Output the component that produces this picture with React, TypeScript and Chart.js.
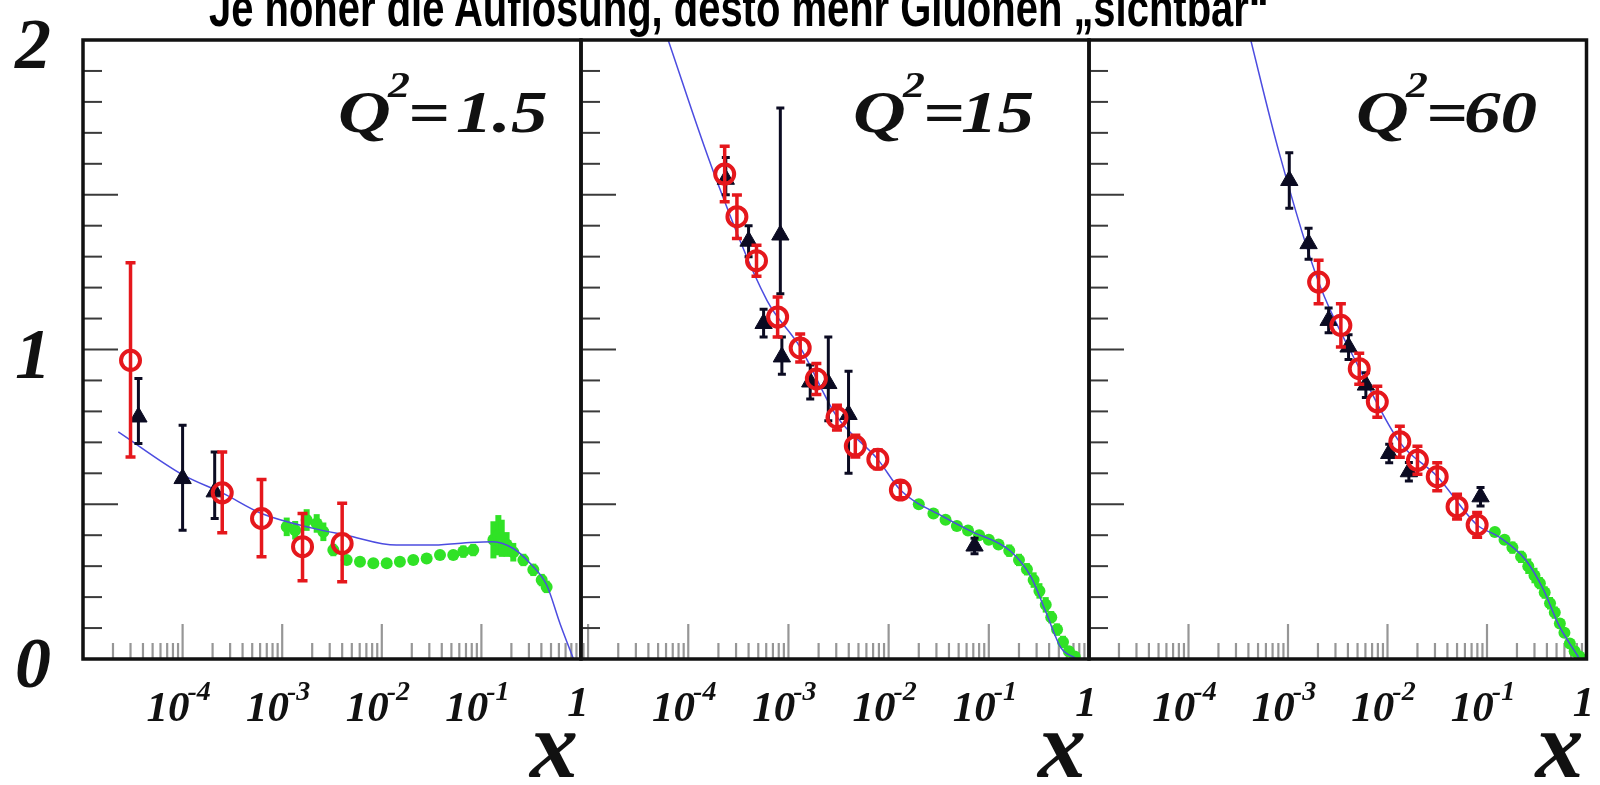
import React, { useEffect, useRef } from 'react';
import { Chart, registerables } from 'chart.js';

Chart.register(...registerables);

// ---------------- text ----------------
const TITLE = 'Je höher die Auflösung, desto mehr Gluonen „sichtbar“';
const Q2_VALUES = ['1.5', '15', '60'];
const X_TICK_EXPONENTS = [-4, -3, -2, -1, 0];
const Y_TICK_LABELS = [0, 1, 2];
const AXIS_NAME = 'x';

// ---------------- panel 1 (Q^2 = 1.5) ----------------
const P1_FIT_X = [2.26e-5, 1.02e-4, 2.56e-4, 6.2e-4, 2.06e-3, 4.4e-3, 1.4e-2, 3.05e-2, 6.6e-2, 0.131, 0.209, 0.308, 0.452, 0.615, 0.776, 0.84];
const P1_FIT_Y = [0.734, 0.594, 0.535, 0.47, 0.422, 0.4, 0.368, 0.368, 0.375, 0.379, 0.357, 0.309, 0.239, 0.115, 0.029, 0.0];
const P1_RED_X = [3.0e-5, 2.5e-4, 6.2e-4, 1.6e-3, 4.0e-3];
const P1_RED_Y = [0.965, 0.537, 0.454, 0.363, 0.373];
const P1_RED_LO = [0.653, 0.408, 0.33, 0.253, 0.25];
const P1_RED_HI = [1.28, 0.669, 0.58, 0.47, 0.503];
const P1_BLK_X = [3.6e-5, 1.0e-4, 2.1e-4];
const P1_BLK_Y = [0.782, 0.583, 0.54];
const P1_BLK_LO = [0.696, 0.416, 0.454];
const P1_BLK_HI = [0.906, 0.755, 0.669];
const P1_GRN_X = [1.11e-3, 1.35e-3, 1.76e-3, 2.22e-3, 2.59e-3, 3.26e-3, 4.44e-3, 6.04e-3, 8.22e-3, 1.12e-2, 1.52e-2, 2.07e-2, 2.82e-2, 3.84e-2, 5.22e-2, 6.58e-2, 8.28e-2, 0.132, 0.148, 0.16, 0.179, 0.209, 0.264, 0.332, 0.403, 0.452];
const P1_GRN_Y = [0.427, 0.416, 0.449, 0.438, 0.411, 0.352, 0.32, 0.314, 0.309, 0.309, 0.314, 0.32, 0.325, 0.336, 0.336, 0.347, 0.352, 0.385, 0.4, 0.39, 0.37, 0.345, 0.32, 0.288, 0.255, 0.233];
const P1_GRN_ERR = [0.03, 0.03, 0.035, 0.03, 0.03, 0.02, 0.015, 0.015, 0.015, 0.015, 0.015, 0.015, 0.015, 0.015, 0.015, 0.02, 0.02, 0.06, 0.065, 0.06, 0.04, 0.03, 0.02, 0.02, 0.02, 0.02];

// ---------------- panel 2 (Q^2 = 15) ----------------
const P2_FIT_X = [6.0e-5, 1.79e-4, 6.1e-4, 1.31e-3, 3.05e-3, 7.8e-3, 1.31e-2, 3.5e-2, 6.46e-2, 0.164, 0.263, 0.372, 0.528, 0.73];
const P2_FIT_Y = [2.02, 1.573, 1.159, 1.007, 0.783, 0.645, 0.546, 0.46, 0.415, 0.349, 0.266, 0.151, 0.035, 0.003];
const P2_RED_X = [2.31e-4, 3.06e-4, 4.8e-4, 7.8e-4, 1.31e-3, 1.9e-3, 3.05e-3, 4.65e-3, 7.8e-3, 1.31e-2];
const P2_RED_Y = [1.567, 1.429, 1.287, 1.105, 1.005, 0.905, 0.78, 0.688, 0.645, 0.546];
const P2_RED_ERR = [0.09, 0.07, 0.05, 0.065, 0.045, 0.05, 0.04, 0.035, 0.03, 0.025];
const P2_BLK_X = [2.37e-4, 4.0e-4, 8.3e-4, 5.65e-4, 8.6e-4, 1.65e-3, 2.5e-3, 3.98e-3, 7.2e-2];
const P2_BLK_Y = [1.55, 1.35, 1.37, 1.084, 0.976, 0.895, 0.89, 0.79, 0.365];
const P2_BLK_LO = [1.5, 1.3, 1.18, 1.04, 0.92, 0.84, 0.77, 0.6, 0.34];
const P2_BLK_HI = [1.62, 1.4, 1.78, 1.13, 1.04, 0.95, 1.04, 0.93, 0.39];
const P2_GRN_X = [0.02, 0.028, 0.037, 0.048, 0.062, 0.08, 0.1, 0.125, 0.16, 0.2, 0.24, 0.28, 0.32, 0.37, 0.42, 0.48, 0.55, 0.63, 0.72];
const P2_GRN_Y = [0.5, 0.47, 0.45, 0.43, 0.415, 0.4, 0.385, 0.37, 0.35, 0.32, 0.29, 0.255, 0.22, 0.175, 0.135, 0.095, 0.055, 0.025, 0.008];
const P2_GRN_ERR = [0.015, 0.015, 0.015, 0.015, 0.015, 0.015, 0.015, 0.015, 0.02, 0.02, 0.02, 0.025, 0.025, 0.025, 0.02, 0.02, 0.02, 0.015, 0.01];

// ---------------- panel 3 (Q^2 = 60) ----------------
const P3_FIT_X = [4.0e-4, 8.2e-4, 2.03e-3, 5.2e-3, 1.33e-2, 3.16e-2, 7.96e-2, 0.131, 0.245, 0.371, 0.525, 0.83];
const P3_FIT_Y = [2.03, 1.633, 1.218, 0.94, 0.7, 0.59, 0.433, 0.395, 0.32, 0.223, 0.11, 0.006];
const P3_RED_X = [2.03e-3, 3.4e-3, 5.2e-3, 7.9e-3, 1.33e-2, 2.0e-2, 3.16e-2, 5.0e-2, 7.96e-2];
const P3_RED_Y = [1.218, 1.078, 0.938, 0.831, 0.702, 0.642, 0.589, 0.492, 0.433];
const P3_RED_ERR = [0.07, 0.07, 0.05, 0.05, 0.05, 0.045, 0.045, 0.04, 0.04];
const P3_BLK_X = [1.03e-3, 1.61e-3, 2.56e-3, 4.06e-3, 6.06e-3, 1.04e-2, 1.64e-2, 8.61e-2];
const P3_BLK_Y = [1.546, 1.342, 1.094, 1.008, 0.885, 0.664, 0.605, 0.524];
const P3_BLK_ERR = [0.09, 0.05, 0.04, 0.04, 0.04, 0.03, 0.03, 0.03];
const P3_GRN_X = [0.12, 0.15, 0.18, 0.22, 0.26, 0.3, 0.34, 0.38, 0.43, 0.48, 0.54, 0.6, 0.68, 0.76, 0.85];
const P3_GRN_Y = [0.41, 0.385, 0.36, 0.33, 0.3, 0.27, 0.245, 0.215, 0.18, 0.15, 0.115, 0.085, 0.05, 0.025, 0.008];
const P3_GRN_ERR = [0.015, 0.015, 0.02, 0.02, 0.025, 0.025, 0.02, 0.02, 0.02, 0.02, 0.015, 0.015, 0.015, 0.01, 0.01];

// ---------------- styling / layout ----------------
const W = 1600;
const H = 785;
const PLOT_TOP = 40;
const PLOT_BOTTOM = 659;
const PANEL_BOX = [
  { left: 83, right: 581, xmin: 1e-5, qx: 338, numDx: 118 },
  { left: 581, right: 1089, xmin: 8.5e-6, qx: 853, numDx: 108 },
  { left: 1089, right: 1588, xmin: 1e-5, qx: 1356, numDx: 108 },
];
const RED = '#e5171c';
const BLACK = '#0b0b22';
const GREEN = '#30e226';
const BLUE = '#4c4ce0';
const SERIF = '"Liberation Serif", "Times New Roman", serif';
const TICK_BASELINE = 721;

const pts = (xs: number[], ys: number[]) => xs.map((x, i) => ({ x, y: ys[i] }));
const minus = (ys: number[], e: number[]) => ys.map((y, i) => y - e[i]);
const plus = (ys: number[], e: number[]) => ys.map((y, i) => y + e[i]);

const PANEL_DATA = [
  {
    fitX: P1_FIT_X, fitY: P1_FIT_Y,
    redX: P1_RED_X, redY: P1_RED_Y, redLo: P1_RED_LO, redHi: P1_RED_HI,
    blkX: P1_BLK_X, blkY: P1_BLK_Y, blkLo: P1_BLK_LO, blkHi: P1_BLK_HI,
    grnX: P1_GRN_X, grnY: P1_GRN_Y, grnLo: minus(P1_GRN_Y, P1_GRN_ERR), grnHi: plus(P1_GRN_Y, P1_GRN_ERR),
  },
  {
    fitX: P2_FIT_X, fitY: P2_FIT_Y,
    redX: P2_RED_X, redY: P2_RED_Y, redLo: minus(P2_RED_Y, P2_RED_ERR), redHi: plus(P2_RED_Y, P2_RED_ERR),
    blkX: P2_BLK_X, blkY: P2_BLK_Y, blkLo: P2_BLK_LO, blkHi: P2_BLK_HI,
    grnX: P2_GRN_X, grnY: P2_GRN_Y, grnLo: minus(P2_GRN_Y, P2_GRN_ERR), grnHi: plus(P2_GRN_Y, P2_GRN_ERR),
  },
  {
    fitX: P3_FIT_X, fitY: P3_FIT_Y,
    redX: P3_RED_X, redY: P3_RED_Y, redLo: minus(P3_RED_Y, P3_RED_ERR), redHi: plus(P3_RED_Y, P3_RED_ERR),
    blkX: P3_BLK_X, blkY: P3_BLK_Y, blkLo: minus(P3_BLK_Y, P3_BLK_ERR), blkHi: plus(P3_BLK_Y, P3_BLK_ERR),
    grnX: P3_GRN_X, grnY: P3_GRN_Y, grnLo: minus(P3_GRN_Y, P3_GRN_ERR), grnHi: plus(P3_GRN_Y, P3_GRN_ERR),
  },
];

function drawTickLabel(ctx: CanvasRenderingContext2D, cx: number, baseline: number, exp: number) {
  const base = `bold italic 43px ${SERIF}`;
  const supF = `bold italic 28px ${SERIF}`;
  ctx.fillStyle = '#111';
  if (exp === 0) {
    ctx.font = base;
    ctx.textAlign = 'center';
    ctx.fillText('1', cx - 3, baseline - 5);
    return;
  }
  ctx.font = base;
  const w1 = ctx.measureText('10').width;
  const sup = '-' + Math.abs(exp);
  ctx.font = supF;
  const w2 = ctx.measureText(sup).width;
  const left = cx - (w1 + w2) / 2 - 3;
  ctx.textAlign = 'left';
  ctx.font = base;
  ctx.fillText('10', left, baseline);
  ctx.font = supF;
  ctx.fillText(sup, left + w1 - 2, baseline - 21);
}

function makePlugin(idx: number) {
  const box = PANEL_BOX[idx];
  return {
    id: 'decor' + idx,
    beforeDatasetsDraw(chart: any) {
      const { ctx, chartArea: a, scales } = chart;
      const x = scales.x;
      const y = scales.y;
      ctx.save();
      ctx.strokeStyle = 'rgb(150,150,150)';
      ctx.lineWidth = 2.2;
      for (let n = -6; n <= 0; n++) {
        for (let k = 1; k <= 9; k++) {
          const v = k * Math.pow(10, n);
          if (v < x.min * 0.9999 || v > x.max * 1.0001) continue;
          const px = x.getPixelForValue(v);
          const len = k === 1 ? 35 : 16;
          ctx.beginPath();
          ctx.moveTo(px, a.bottom);
          ctx.lineTo(px, a.bottom - len);
          ctx.stroke();
        }
      }
      ctx.strokeStyle = '#3a3a3a';
      ctx.lineWidth = 2;
      for (let i = 1; i < 20; i++) {
        const py = y.getPixelForValue(i / 10);
        const len = i % 5 === 0 ? 35 : 19;
        ctx.beginPath();
        ctx.moveTo(a.left, py);
        ctx.lineTo(a.left + len, py);
        ctx.stroke();
      }
      ctx.restore();
    },
    beforeDatasetDraw(chart: any, args: any) {
      const ds = chart.data.datasets[args.index];
      if (!ds.errLo) return;
      const { ctx, chartArea: a, scales } = chart;
      const x = scales.x;
      const y = scales.y;
      ctx.save();
      ctx.beginPath();
      ctx.rect(a.left, a.top, a.right - a.left, a.bottom - a.top);
      ctx.clip();
      ctx.strokeStyle = ds.errColor;
      ctx.lineWidth = ds.errWidth;
      ds.data.forEach((p: any, i: number) => {
        const px = x.getPixelForValue(p.x);
        const lo = y.getPixelForValue(ds.errLo[i]);
        const hi = y.getPixelForValue(ds.errHi[i]);
        ctx.beginPath();
        ctx.moveTo(px, lo);
        ctx.lineTo(px, hi);
        if (ds.errCap > 0) {
          ctx.moveTo(px - ds.errCap, lo);
          ctx.lineTo(px + ds.errCap, lo);
          ctx.moveTo(px - ds.errCap, hi);
          ctx.lineTo(px + ds.errCap, hi);
        }
        ctx.stroke();
      });
      ctx.restore();
    },
    afterDatasetsDraw(chart: any) {
      const { ctx, chartArea: a } = chart;
      ctx.save();
      ctx.strokeStyle = '#111';
      ctx.lineWidth = 3.5;
      ctx.strokeRect(a.left, a.top, a.right - a.left, a.bottom - a.top);
      ctx.restore();
    },
    afterDraw(chart: any) {
      const { ctx, chartArea: a, scales } = chart;
      const x = scales.x;
      const y = scales.y;
      ctx.save();
      // x tick labels
      X_TICK_EXPONENTS.forEach((e) => {
        drawTickLabel(ctx, x.getPixelForValue(Math.pow(10, e)), TICK_BASELINE, e);
      });
      // axis name
      ctx.fillStyle = '#111';
      ctx.font = `bold italic 96px ${SERIF}`;
      ctx.textAlign = 'center';
      ctx.fillText(AXIS_NAME, a.right - 27, 777);
      // y labels (first panel only)
      if (idx === 0) {
        ctx.font = `bold italic 72px ${SERIF}`;
        ctx.textAlign = 'center';
        Y_TICK_LABELS.forEach((v) => {
          ctx.fillText(String(v), 33, y.getPixelForValue(v) + 28);
        });
      }
      // Q^2 annotation
      const sx = 1.22;
      ctx.translate(box.qx, 132);
      ctx.scale(sx, 1);
      ctx.textAlign = 'left';
      ctx.font = `bold italic 60px ${SERIF}`;
      ctx.fillText('Q', 0, 0);
      ctx.font = `bold italic 36px ${SERIF}`;
      ctx.fillText('2', 50 / sx, -35);
      ctx.font = `bold italic 60px ${SERIF}`;
      ctx.fillText('=', 70 / sx, 0);
      ctx.fillText(Q2_VALUES[idx], box.numDx / sx, 0);
      ctx.restore();
    },
  };
}

function makeConfig(idx: number): any {
  const box = PANEL_BOX[idx];
  const d = PANEL_DATA[idx];
  return {
    type: 'scatter',
    data: {
      datasets: [
        {
          type: 'line',
          label: 'fit',
          data: pts(d.fitX, d.fitY),
          borderColor: BLUE,
          borderWidth: 1.5,
          pointRadius: 0,
          fill: false,
          cubicInterpolationMode: 'monotone',
          order: 2,
        },
        {
          label: 'fixed target',
          data: pts(d.grnX, d.grnY),
          pointStyle: 'circle',
          pointRadius: 6,
          backgroundColor: GREEN,
          borderColor: GREEN,
          borderWidth: 0,
          order: 3,
          errLo: d.grnLo,
          errHi: d.grnHi,
          errColor: GREEN,
          errWidth: 6,
          errCap: 0,
        },
        {
          label: 'ZEUS',
          data: pts(d.blkX, d.blkY),
          pointStyle: 'triangle',
          pointRadius: 10,
          backgroundColor: BLACK,
          borderColor: BLACK,
          borderWidth: 1,
          order: 1,
          errLo: d.blkLo,
          errHi: d.blkHi,
          errColor: BLACK,
          errWidth: 3,
          errCap: 4,
        },
        {
          label: 'H1',
          data: pts(d.redX, d.redY),
          pointStyle: 'circle',
          pointRadius: 9.5,
          backgroundColor: 'rgba(255,255,255,0)',
          borderColor: RED,
          borderWidth: 4,
          order: 0,
          errLo: d.redLo,
          errHi: d.redHi,
          errColor: RED,
          errWidth: 3.5,
          errCap: 5,
        },
      ],
    },
    options: {
      animation: false,
      responsive: false,
      devicePixelRatio: 1,
      events: [],
      layout: {
        padding: { left: box.left, right: W - box.right, top: PLOT_TOP, bottom: H - PLOT_BOTTOM },
      },
      scales: {
        x: { type: 'logarithmic', min: box.xmin, max: 1, display: false },
        y: { type: 'linear', min: 0, max: 2, display: false },
      },
      plugins: {
        legend: { display: false },
        tooltip: { enabled: false },
        title: { display: false },
      },
    },
    plugins: [makePlugin(idx)],
  };
}

function Panel({ idx }: { idx: number }) {
  const ref = useRef<HTMLCanvasElement | null>(null);
  useEffect(() => {
    if (!ref.current) return;
    const chart = new Chart(ref.current, makeConfig(idx));
    return () => chart.destroy();
  }, [idx]);
  return (
    <canvas
      ref={ref}
      width={W}
      height={H}
      style={{ position: 'absolute', left: 0, top: 0, width: W, height: H }}
    />
  );
}

export default function App() {
  return (
    <div
      style={{
        position: 'absolute',
        left: 0,
        top: 0,
        width: W,
        height: H,
        overflow: 'hidden',
        background: '#ffffff',
      }}
    >
      <Panel idx={0} />
      <Panel idx={1} />
      <Panel idx={2} />
      <div
        style={{
          position: 'absolute',
          left: 209,
          top: -20,
          font: 'bold 54px "Liberation Sans", Arial, sans-serif',
          lineHeight: '54px',
          whiteSpace: 'nowrap',
          transform: 'scaleX(0.74)',
          transformOrigin: '0 0',
          color: '#000',
        }}
      >
        {TITLE}
      </div>
    </div>
  );
}
